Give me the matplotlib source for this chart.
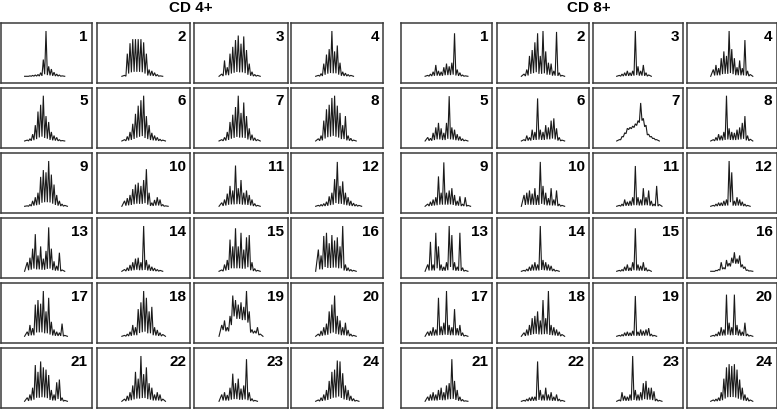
import matplotlib
matplotlib.use("Agg")
import matplotlib.pyplot as plt

plt.rcParams['font.family'] = ['Liberation Sans', 'DejaVu Sans']

group_titles = ["CD 4+", "CD 8+"]
panel_labels = [str(i) for i in range(1, 25)]

# peak heights (relative, %) at successive CDR3-length positions, panels 1..24
cd4_heights = [
    [0, 1, 2, 3, 4, 8, 37, 100, 22, 16, 9, 5, 3, 1],
    [2, 50, 73, 82, 82, 82, 82, 75, 50, 15, 12, 8, 4, 1],
    [5, 35, 20, 50, 65, 80, 90, 72, 88, 58, 28, 10, 4, 2],
    [2, 6, 28, 48, 60, 100, 55, 68, 30, 10, 7, 4, 2],
    [2, 5, 15, 35, 65, 80, 100, 55, 42, 20, 12, 8, 3, 1],
    [3, 10, 20, 38, 60, 78, 90, 100, 55, 35, 18, 12, 8, 4, 2],
    [3, 8, 20, 42, 58, 75, 100, 62, 85, 55, 28, 14, 7, 3],
    [5, 12, 45, 70, 80, 95, 100, 78, 62, 35, 55, 12, 6, 2],
    [1, 4, 12, 20, 30, 65, 80, 75, 100, 70, 48, 25, 12, 5, 2],
    [12, 18, 25, 38, 48, 52, 45, 58, 82, 30, 8, 14, 20, 15, 4, 1],
    [8, 15, 28, 45, 35, 90, 40, 58, 30, 35, 25, 15, 6, 2],
    [2, 4, 6, 10, 22, 30, 60, 98, 45, 55, 30, 20, 12, 7, 4, 2],
    [20, 30, 50, 82, 35, 55, 28, 45, 97, 50, 22, 12, 41, 3],
    [4, 8, 14, 20, 28, 30, 20, 100, 25, 15, 10, 7, 4, 2],
    [3, 15, 25, 70, 55, 95, 55, 85, 48, 75, 80, 20, 6, 2],
    [48, 35, 78, 85, 62, 80, 68, 75, 55, 100, 15, 8, 4, 2],
    [10, 25, 18, 70, 80, 72, 100, 55, 85, 32, 15, 10, 8, 28, 2],
    [2, 5, 10, 25, 20, 60, 75, 100, 85, 55, 65, 20, 14, 8, 4],
    [25, 35, 20, 45, 90, 80, 70, 75, 65, 100, 55, 15, 12, 20, 5],
    [5, 12, 20, 28, 55, 70, 90, 45, 35, 20, 30, 14, 5, 2],
    [8, 15, 30, 80, 65, 88, 75, 70, 58, 25, 15, 42, 48, 8, 2],
    [5, 12, 20, 35, 65, 50, 100, 60, 75, 40, 30, 15, 20, 15, 5],
    [15, 20, 14, 30, 61, 40, 50, 28, 35, 93, 20, 6, 2],
    [3, 8, 15, 25, 45, 65, 70, 90, 88, 62, 35, 25, 12, 6, 2],
]
cd8_heights = [
    [2, 5, 10, 25, 12, 10, 20, 28, 22, 30, 95, 15, 8, 3, 1],
    [5, 15, 45, 58, 75, 95, 45, 100, 55, 30, 28, 12, 98, 8, 2],
    [2, 5, 8, 12, 8, 12, 100, 22, 12, 25, 8, 3],
    [15, 25, 18, 40, 55, 45, 100, 60, 40, 20, 35, 18, 80, 12, 4],
    [8, 6, 18, 30, 40, 28, 18, 40, 99, 30, 25, 15, 10, 5, 2],
    [3, 12, 8, 25, 20, 94, 25, 20, 35, 30, 45, 50, 28, 8, 2],
    [3, 10, 18, 28, 30, 33, 38, 45, 84, 50, 35, 15, 10, 6, 3],
    [3, 8, 15, 12, 20, 100, 28, 20, 18, 25, 30, 40, 55, 12, 4],
    [5, 10, 15, 20, 66, 30, 97, 30, 35, 40, 25, 12, 22, 5, 20, 2],
    [25, 30, 35, 28, 40, 25, 98, 45, 30, 18, 40, 15, 35, 5, 2],
    [2, 5, 15, 10, 12, 20, 89, 20, 15, 40, 20, 35, 12, 5, 45, 4],
    [2, 5, 8, 8, 12, 15, 100, 75, 12, 20, 15, 10, 5, 2],
    [15, 65, 15, 85, 55, 15, 10, 20, 100, 80, 20, 10, 85, 8, 2],
    [2, 5, 10, 15, 20, 15, 100, 25, 20, 15, 12, 5, 2],
    [2, 4, 10, 15, 8, 20, 95, 15, 12, 20, 8, 3],
    [0, 2, 4, 20, 8, 25, 18, 30, 42, 28, 35, 15, 10, 3, 1],
    [10, 12, 20, 15, 85, 22, 30, 100, 25, 20, 60, 18, 25, 8, 2],
    [8, 15, 25, 40, 45, 55, 35, 80, 40, 100, 25, 20, 15, 10, 4],
    [2, 4, 8, 10, 8, 12, 89, 10, 15, 12, 15, 18, 5, 2],
    [2, 5, 10, 20, 15, 92, 30, 20, 92, 25, 15, 10, 30, 5, 2],
    [10, 15, 20, 15, 25, 30, 20, 35, 40, 93, 45, 25, 10, 4, 1],
    [2, 5, 8, 10, 10, 88, 25, 15, 30, 15, 20, 10, 15, 5, 2],
    [3, 20, 12, 10, 15, 100, 25, 15, 20, 40, 45, 30, 30, 22, 5, 2],
    [3, 5, 8, 20, 50, 75, 82, 78, 82, 70, 48, 30, 15, 8, 3],
]
# fraction of the lower neighbouring peak kept between peaks (raised valleys)
cd4_floor = [0.12] * 24
cd4_floor[18] = 0.55
cd8_floor = [0.12] * 24
cd8_floor[6] = 0.9
cd8_floor[15] = 0.6

W, H = 777, 409
fig = plt.figure(figsize=(W / 100, H / 100), dpi=100)

col_left = [[0.5, 97.3, 194.3, 291.3], [401.0, 497.0, 592.7, 687.0]]
col_width = [[91.0, 92.7, 93.4, 92.0], [91.0, 92.0, 90.6, 89.5]]
row_top = [23.3, 88.0, 153.3, 218.3, 283.3, 348.3]
row_h = 59.7
title_x = [190.5, 589]


def trace(heights, floor):
    xs = [-1.0]
    ys = [0.0]
    n = len(heights)
    for i, h in enumerate(heights):
        xs.append(i)
        ys.append(h)
        if i < n - 1:
            xs.append(i + 0.5)
            ys.append(floor * min(h, heights[i + 1]))
    xs.append(n)
    ys.append(0.0)
    return xs, ys


for g, (data, floors) in enumerate([(cd4_heights, cd4_floor), (cd8_heights, cd8_floor)]):
    fig.text(title_x[g] / W, 1 - 8.5 / H, group_titles[g], ha='center', va='center',
             fontsize=11, fontweight='bold')
    for k in range(24):
        r, c = divmod(k, 4)
        l = col_left[g][c]
        w = col_width[g][c]
        t = row_top[r]
        ax = fig.add_axes([l / W, 1 - (t + row_h) / H, w / W, row_h / H])
        xs, ys = trace(data[k], floors[k])
        ax.plot(xs, ys, color='#1a1a1a', lw=0.8, solid_joinstyle='miter')
        ax.set_xlim(-10, 24)
        ax.set_ylim(-14.8, 117)
        ax.set_xticks([])
        ax.set_yticks([])
        for s in ax.spines.values():
            s.set_color('#3a3a3a')
            s.set_linewidth(1.1)
        ax.text(1 - 4 / w, 1 - 6.5 / row_h, panel_labels[k], transform=ax.transAxes,
                ha='right', va='top', fontsize=11, fontweight='bold')

fig.savefig('out.png', dpi=100)
